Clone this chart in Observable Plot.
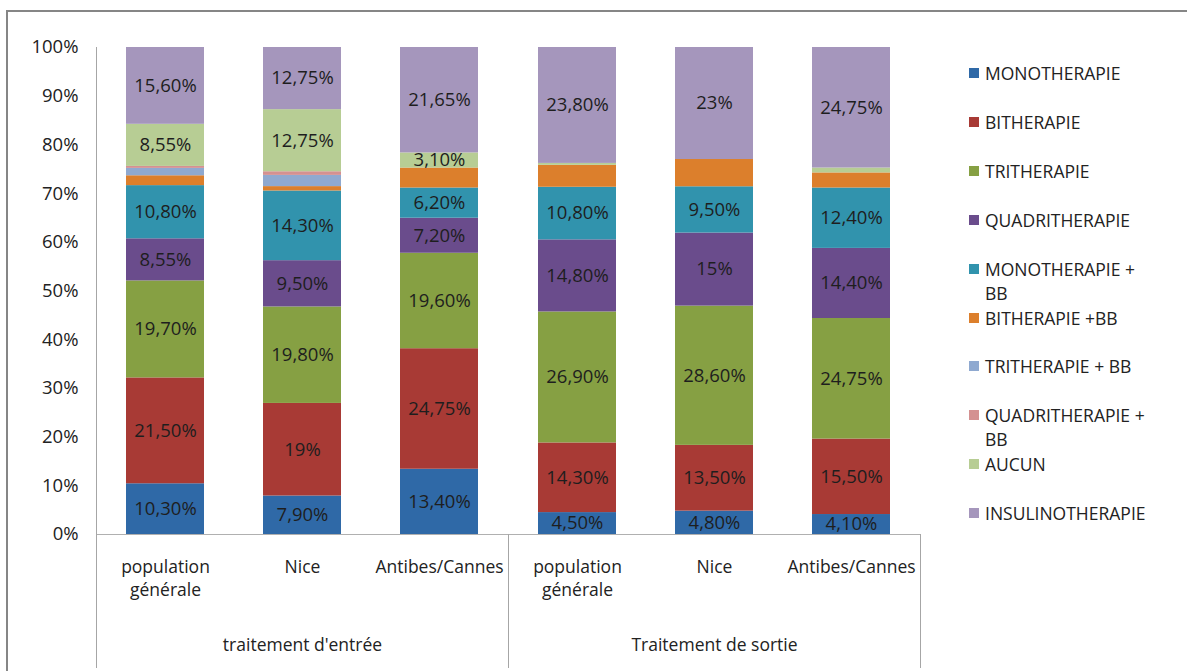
<!DOCTYPE html>
<html>
<head>
<meta charset="utf-8">
<script src="https://cdn.jsdelivr.net/npm/d3@7"></script>
<script src="https://cdn.jsdelivr.net/npm/@observablehq/plot@0.6"></script>
<style>
  html, body { margin: 0; padding: 0; background: #fff; overflow: hidden; }
  #wrap { position: relative; width: 1187px; height: 671px; overflow: hidden; font-family: "Open Sans", sans-serif; color: #222; }
  #border { position: absolute; left: 6px; top: 10px; width: 1300px; height: 800px; border-left: 2px solid #868686; border-top: 2px solid #868686; pointer-events: none; }
  #legend { position: absolute; left: 969px; top: 0; }
  .item { position: absolute; left: 0; width: 200px; font-size: 17.5px; line-height: 24px; }
  .sw { position: absolute; left: 0; top: 7px; width: 10px; height: 10px; }
  .lab { margin-left: 16px; width: 168px; }
</style>
</head>
<body>
<div id="wrap"><div id="chart"></div><div id="legend"></div><div id="border"></div></div>
<script>
// ---- data ----
const groups = ["traitement d'entrée", "Traitement de sortie"];
const regions = ["population générale", "Nice", "Antibes/Cannes"];
// bars in order: entrée (pop, Nice, Antibes), sortie (pop, Nice, Antibes)
const series = [
  "MONOTHERAPIE", "BITHERAPIE", "TRITHERAPIE", "QUADRITHERAPIE",
  "MONOTHERAPIE + BB", "BITHERAPIE +BB", "TRITHERAPIE + BB",
  "QUADRITHERAPIE + BB", "AUCUN", "INSULINOTHERAPIE"
];
const monotherapie      = [10.3, 7.9, 13.4, 4.5, 4.8, 4.1];
const bitherapie        = [21.5, 19, 24.75, 14.3, 13.5, 15.5];
const tritherapie       = [19.7, 19.8, 19.6, 26.9, 28.6, 24.75];
const quadritherapie    = [8.55, 9.5, 7.2, 14.8, 15, 14.4];
const monotherapieBB    = [10.8, 14.3, 6.2, 10.8, 9.5, 12.4];
const bitherapieBB      = [2.0, 0.9, 4.1, 4.5, 5.6, 3.1];
const tritherapieBB     = [1.5, 2.3, 0, 0, 0, 0];
const quadritherapieBB  = [0.4, 0.75, 0, 0, 0, 0];
const aucun             = [8.55, 12.75, 3.1, 0.4, 0, 1.0];
const insulinotherapie  = [15.6, 12.75, 21.65, 23.8, 23, 24.75];
const seriesValues = [monotherapie, bitherapie, tritherapie, quadritherapie, monotherapieBB,
  bitherapieBB, tritherapieBB, quadritherapieBB, aucun, insulinotherapie];
const labeledSeries = ["MONOTHERAPIE", "BITHERAPIE", "TRITHERAPIE", "QUADRITHERAPIE",
  "MONOTHERAPIE + BB", "AUCUN", "INSULINOTHERAPIE"];
const minLabel = 3;
const colors = ["#2F69A7", "#A83A35", "#86A043", "#6A4C8C", "#3193AD",
  "#DC7F2C", "#8FA9D0", "#D49191", "#B7CD94", "#A596BC"];
const yTicks = [0, 10, 20, 30, 40, 50, 60, 70, 80, 90, 100];

// ---- table ----
const table = [];
series.forEach((s, si) => {
  seriesValues[si].forEach((v, bi) => {
    table.push({
      group: groups[Math.floor(bi / 3)],
      region: regions[bi % 3],
      series: s,
      value: v
    });
  });
});
const fmt = v => (Number.isInteger(v) ? String(v) : v.toFixed(2).replace(".", ",")) + "%";
const labelOf = d => (labeledSeries.includes(d.series) && d.value >= minLabel) ? fmt(d.value) : "";

const stackOpts = {offset: "normalize", order: series, x: "region", fx: "group", y: "value", z: "series"};

const plot = Plot.plot({
  width: 1187,
  height: 671,
  marginLeft: 95,
  marginRight: 267,
  marginTop: 47,
  marginBottom: 137,
  style: {fontFamily: "Open Sans, sans-serif", fontSize: "17.5px", color: "#222", background: "transparent"},
  fx: {domain: groups, padding: 0, label: null},
  x: {domain: regions, paddingInner: 0.43, paddingOuter: 0.215, label: null},
  y: {domain: [0, 1], label: null},
  color: {domain: series, range: colors},
  marks: [
    Plot.barY(table, Plot.stackY({...stackOpts, fill: "series"})),
    Plot.text(table, Plot.stackY({...stackOpts, text: labelOf, fill: "#1e1e1e", fontSize: 18.5})),
    Plot.ruleY([0], {stroke: "#b0b0b0"}),
    Plot.axisY({ticks: yTicks.map(t => t / 100), tickFormat: d => Math.round(d * 100) + "%",
      tickSize: 0, tickPadding: 18, fontSize: 18.5, fill: "#222", label: null}),
    Plot.axisX({tickSize: 0, tickPadding: 22, tickFormat: d => d.replace(" ", "\n"),
      lineHeight: 1.32, fontSize: 17.5, fill: "#222", label: null}),
    Plot.axisFx({anchor: "bottom", tickSize: 0, tickPadding: 104, fontSize: 17.5, fill: "#222", label: null})
  ]
});
document.getElementById("chart").appendChild(plot);

// separators / y axis line using the plot's own scales
const fxs = plot.scale("fx");
const ys = plot.scale("y");
const edges = groups.map(g => fxs.apply(g)).concat([fxs.apply(groups[groups.length - 1]) + fxs.bandwidth]);
const svg = d3.select(plot);
edges.forEach((x, i) => {
  svg.append("line")
    .attr("x1", x + 0.5).attr("x2", x + 0.5)
    .attr("y1", i === 0 ? ys.apply(1) : ys.apply(0))
    .attr("y2", 668)
    .attr("stroke", "#a6a6a6");
});

// legend
const legend = document.getElementById("legend");
series.forEach((s, i) => {
  const item = document.createElement("div");
  item.className = "item";
  item.style.top = (61 + i * 48.9) + "px";
  const sw = document.createElement("div");
  sw.className = "sw";
  sw.style.background = plot.scale("color").apply(s);
  const lab = document.createElement("div");
  lab.className = "lab";
  lab.textContent = s;
  item.appendChild(sw);
  item.appendChild(lab);
  legend.appendChild(item);
});
</script>
</body>
</html>
